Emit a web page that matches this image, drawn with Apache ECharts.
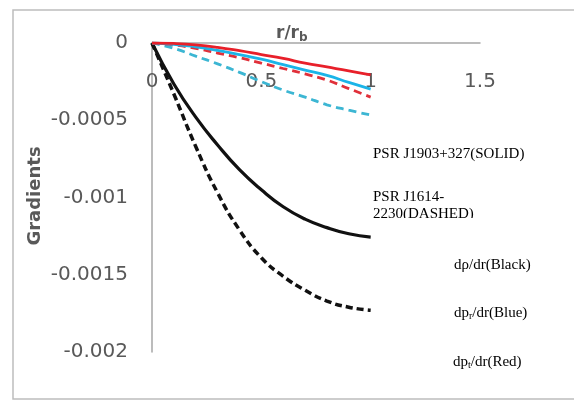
<!DOCTYPE html>
<html>
<head>
<meta charset="utf-8">
<script src="https://cdn.jsdelivr.net/npm/echarts@6/dist/echarts.min.js"></script>
<style>html,body{margin:0;padding:0;background:#fff}#c{width:574px;height:407px}</style>
</head>
<body>
<div id="c"></div>
<script>
// r / r_b sample positions
const xValues = [0, 0.1, 0.2, 0.3, 0.4, 0.5, 0.6, 0.7, 0.8, 0.9, 1.0];
// PSR J1903+327 (solid)
const densitySolid  = [0, -0.000265, -0.00048, -0.00066, -0.00082, -0.00095, -0.00106, -0.00114, -0.001195, -0.001235, -0.001256];
const radialSolid   = [0, -0.000008, -0.000025, -0.000048, -0.000075, -0.000105, -0.00014, -0.000175, -0.00021, -0.000255, -0.000298];
const tangentSolid  = [0, -0.000003, -0.000012, -0.000028, -0.00005, -0.000075, -0.0001, -0.00013, -0.000155, -0.00018, -0.000207];
// PSR J1614-2230 (dashed)
const densityDashed = [0, -0.00033, -0.00067, -0.00097, -0.00121, -0.00139, -0.00151, -0.0016, -0.00167, -0.00171, -0.00173];
const radialDashed  = [0, -0.000035, -0.000085, -0.000135, -0.00019, -0.00025, -0.000305, -0.00035, -0.0004, -0.000435, -0.000466];
const tangentDashed = [0, -0.000012, -0.000035, -0.000065, -0.000095, -0.00013, -0.000165, -0.0002, -0.00024, -0.000295, -0.00035];

const xTickLabels = ['0', '0.5', '1', '1.5'];
const yTickLabels = ['-0.002', '-0.0015', '-0.001', '-0.0005', '0'];
const xTickValues = [0, 0.5, 1, 1.5];
const yTickValues = [-0.002, -0.0015, -0.001, -0.0005, 0];

const annotations = ['PSR J1903+327(SOLID)', 'PSR J1614-', '2230(DASHED)'];

function pts(arr) { return xValues.map((x, i) => [x, arr[i]]); }
function lab(vals, labels) {
  return function (v) {
    for (let i = 0; i < vals.length; i++) if (Math.abs(v - vals[i]) < 1e-9) return labels[i];
    return '';
  };
}

const chart = echarts.init(document.getElementById('c'), null, {renderer: 'canvas'});
function line(name, arr, color, width, dash) {
  return {
    name: name, type: 'line', data: pts(arr), smooth: true,
    showSymbol: false, symbol: 'none',
    lineStyle: {color: color, width: width, type: dash || 'solid'},
    z: 3
  };
}
const option = {
  backgroundColor: '#fff',
  animation: false,
  grid: {left: 152, top: 43, width: 328, height: 309},
  xAxis: {
    type: 'value', position: 'top', min: 0, max: 1.5, interval: 0.5,
    axisLine: {show: true, lineStyle: {color: '#A6A6A6', width: 1.5}},
    axisTick: {show: false},
    splitLine: {show: false},
    axisLabel: {inside: true, margin: 29, fontFamily: 'DejaVu Sans', fontSize: 20, color: '#595959',
      formatter: lab(xTickValues, xTickLabels)}
  },
  yAxis: {
    type: 'value', min: -0.002, max: 0, interval: 0.0005,
    axisLine: {show: true, lineStyle: {color: '#A6A6A6', width: 1.5}},
    axisTick: {show: false},
    splitLine: {show: false},
    axisLabel: {margin: 24, fontFamily: 'DejaVu Sans', fontSize: 20, color: '#595959',
      formatter: lab(yTickValues, yTickLabels)}
  },
  series: [
    line('dρ/dr J1614', densityDashed, '#111111', 3.5, [7, 4]),
    line('dρ/dr J1903', densitySolid, '#111111', 3.2),
    line('dpr/dr J1614', radialDashed, '#3CB6D3', 2.8, [8, 5]),
    line('dpt/dr J1614', tangentDashed, '#E0303A', 2.8, [8, 5]),
    line('dpr/dr J1903', radialSolid, '#1BB4E8', 2.8),
    line('dpt/dr J1903', tangentSolid, '#E8202A', 2.8)
  ],
  graphic: [
    {type: 'rect', shape: {x: 13, y: 10, width: 600, height: 389}, style: {fill: 'none', stroke: '#BDBDBD', lineWidth: 1.5}, silent: true, z: 0},
    {type: 'text', left: 276, top: 25, z: 10, style: {
      text: '{m|r/r}{s|b}', rich: {
        m: {fontFamily: 'DejaVu Sans', fontWeight: 'bold', fontSize: 17, fill: '#595959'},
        s: {fontFamily: 'DejaVu Sans', fontWeight: 'bold', fontSize: 12, fill: '#595959', padding: [8, 0, 0, 0]}
      }}},
    {type: 'text', x: 35, y: 196, rotation: Math.PI / 2, z: 10, style: {
      text: 'Gradients', fontFamily: 'DejaVu Sans', fontWeight: 'bold', fontSize: 18, fill: '#595959',
      textAlign: 'center', textVerticalAlign: 'middle'}},
    {type: 'text', x: 373, y: 154, z: 10, style: {text: annotations[0], fontFamily: 'Liberation Serif', fontSize: 15, fill: '#000', textVerticalAlign: 'middle'}},
    {type: 'text', x: 373, y: 197, z: 10, style: {text: annotations[1], fontFamily: 'Liberation Serif', fontSize: 15, fill: '#000', textVerticalAlign: 'middle'}},
    {type: 'text', x: 373, y: 214, z: 10, style: {text: annotations[2], fontFamily: 'Liberation Serif', fontSize: 15, fill: '#000', textVerticalAlign: 'middle'}},
    {type: 'rect', shape: {x: 371, y: 218, width: 110, height: 8}, style: {fill: '#fff'}, z: 11, silent: true},
    {type: 'text', x: 454, y: 265, z: 10, style: {text: 'dρ/dr(Black)', fontFamily: 'Liberation Serif', fontSize: 15, fill: '#000', textVerticalAlign: 'middle'}},
    {type: 'text', x: 454, y: 313, z: 10, style: {
      text: '{n|dp}{s|r}{n|/dr(Blue)}', textVerticalAlign: 'middle', rich: {
        n: {fontFamily: 'Liberation Serif', fontSize: 15, fill: '#000'},
        s: {fontFamily: 'Liberation Serif', fontSize: 10, fill: '#000', padding: [6, 0, 0, 0]}
      }}},
    {type: 'text', x: 453, y: 362, z: 10, style: {
      text: '{n|dp}{s|t}{n|/dr(Red)}', textVerticalAlign: 'middle', rich: {
        n: {fontFamily: 'Liberation Serif', fontSize: 15, fill: '#000'},
        s: {fontFamily: 'Liberation Serif', fontSize: 10, fill: '#000', padding: [6, 0, 0, 0]}
      }}}
  ]
};
chart.setOption(option);
</script>
</body>
</html>
